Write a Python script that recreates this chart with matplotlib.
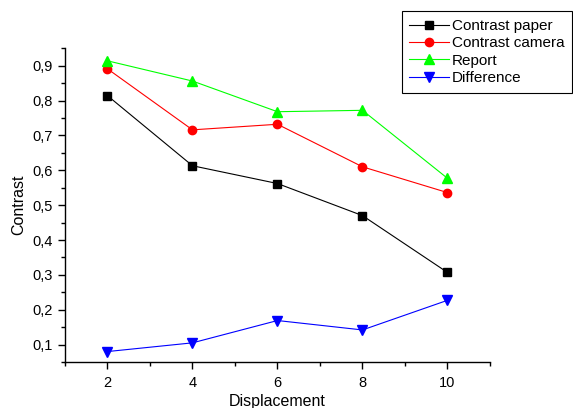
import numpy as np
import matplotlib
matplotlib.use("Agg")
import matplotlib.pyplot as plt
from matplotlib.ticker import MultipleLocator

plt.rcParams['font.family'] = ['Liberation Sans', 'DejaVu Sans']

######## data ########
displacement = [2, 4, 6, 8, 10]
contrast_paper = [0.814, 0.613, 0.562, 0.470, 0.307]
contrast_camera = [0.891, 0.716, 0.732, 0.610, 0.536]
report = [0.914, 0.856, 0.768, 0.772, 0.577]
difference = [0.080, 0.105, 0.169, 0.142, 0.227]

ytick_vals = [0.1, 0.2, 0.3, 0.4, 0.5, 0.6, 0.7, 0.8, 0.9]
ytick_labels = ['0,1', '0,2', '0,3', '0,4', '0,5', '0,6', '0,7', '0,8', '0,9']
xtick_vals = [2, 4, 6, 8, 10]

fig = plt.figure(figsize=(5.73, 4.08), dpi=100)
ax = fig.add_axes([0.1134, 0.1127, 0.7417, 0.769])

ax.plot(displacement, contrast_paper, '-s', color='black', lw=0.8, ms=5.5, label='Contrast paper')
ax.plot(displacement, contrast_camera, '-o', color='#ff0000', lw=0.8, ms=6, label='Contrast camera')
ax.plot(displacement, report, '-^', color='#00ff00', lw=0.8, ms=6.5, label='Report')
ax.plot(displacement, difference, '-v', color='#0000ff', lw=0.8, ms=6.5, label='Difference')

ax.set_xlim(1, 11)
ax.set_ylim(0.05, 0.95)
ax.set_xticks(xtick_vals)
ax.xaxis.set_minor_locator(MultipleLocator(1))
ax.set_yticks(ytick_vals)
ax.set_yticklabels(ytick_labels)
ax.yaxis.set_minor_locator(MultipleLocator(0.05))

for s in ['top', 'right']:
    ax.spines[s].set_visible(False)
for s in ['left', 'bottom']:
    ax.spines[s].set_linewidth(1.0)

ax.tick_params(which='major', direction='out', length=5, width=1, labelsize=10.5, colors='black')
ax.tick_params(which='minor', direction='out', length=3, width=1)
ax.tick_params(axis='x', pad=5)

ax.set_xlabel('Displacement', fontsize=11.5, labelpad=3)
ax.set_ylabel('Contrast', fontsize=11.5, labelpad=5)

leg = ax.legend(loc='upper right', bbox_to_anchor=(0.999, 0.972), bbox_transform=fig.transFigure,
                fontsize=11, frameon=True, fancybox=False, framealpha=1, edgecolor='black',
                handlelength=2.6, handletextpad=0.2, labelspacing=0.22, borderpad=0.5,
                borderaxespad=0)
leg.get_frame().set_linewidth(0.8)

fig.savefig('out.png', dpi=100)
